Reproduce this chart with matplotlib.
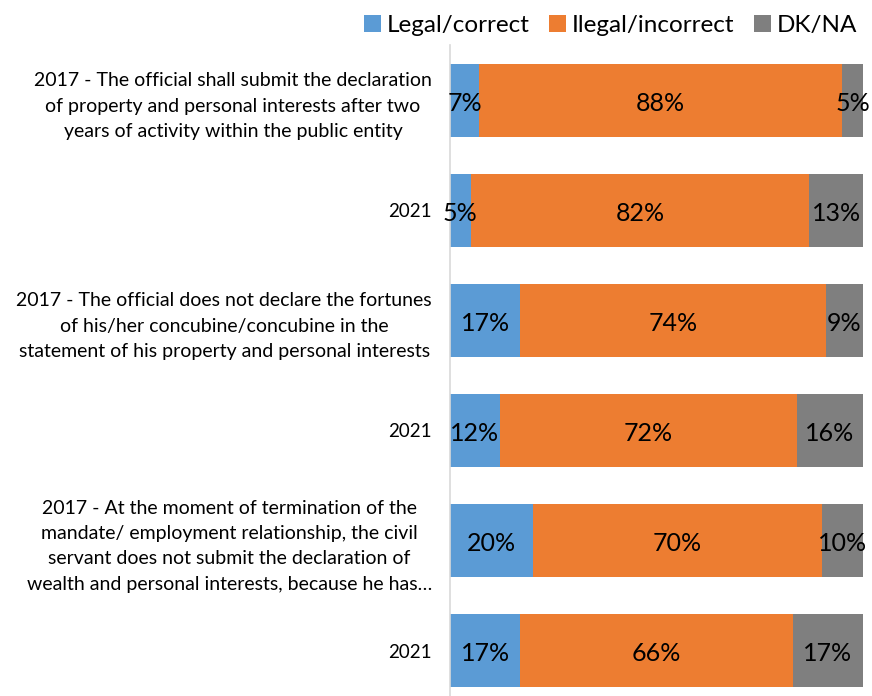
import matplotlib
matplotlib.use("Agg")
import matplotlib.pyplot as plt
import numpy as np

plt.rcParams['font.family'] = ['Lato', 'DejaVu Sans']

categories = [
    "2017 - The official shall submit the declaration\nof property and personal interests after two\nyears of activity within the public entity",
    "2021",
    "2017 - The official does not declare the fortunes\nof his/her concubine/concubine in the\nstatement of his property and personal interests",
    "2021",
    "2017 - At the moment of termination of the\nmandate/ employment relationship, the civil\nservant does not submit the declaration of\nwealth and personal interests, because he has\u2026",
    "2021",
]
series_names = ["Legal/correct", "Ilegal/incorrect", "DK/NA"]
legal = [7, 5, 17, 12, 20, 17]
illegal = [88, 82, 74, 72, 70, 66]
dkna = [5, 13, 9, 16, 10, 17]
colors = ["#5b9bd5", "#ed7d31", "#7f7f7f"]

W, H = 872, 696
fig = plt.figure(figsize=(W / 100, H / 100), dpi=100)
left, right = 450, 863
top, bottom = 45.5, 705.5
ax = fig.add_axes([left / W, 1 - bottom / H, (right - left) / W, (bottom - top) / H])

y = np.arange(len(categories))
cum = np.zeros(len(categories))
for vals, name, col in zip([legal, illegal, dkna], series_names, colors):
    vals = np.array(vals, dtype=float)
    ax.barh(y, vals, left=cum, height=0.66, color=col, label=name)
    for yi, c, v in zip(y, cum, vals):
        ax.text(c + v / 2, yi + 0.03, f"{int(v)}%", ha="center", va="center",
                fontsize=18, color="black")
    cum += vals

ax.set_xlim(0, 100)
ax.set_ylim(len(categories) - 0.5, -0.5)
ax.set_yticks(y)
ax.set_yticklabels(categories)
for lbl, txt in zip(ax.get_yticklabels(), categories):
    lbl.set_multialignment("center")
    lbl.set_linespacing(1.6)
    lbl.set_fontsize(13.5 if txt == "2021" else 14)
ax.tick_params(axis="y", length=0, pad=13)
ax.set_xticks([])
for s in ["top", "right", "bottom"]:
    ax.spines[s].set_visible(False)
ax.spines["left"].set_color("#d9d9d9")
ax.spines["left"].set_linewidth(1.2)

fig.legend(loc="upper right", bbox_to_anchor=(1.0, 1.0), ncol=3, frameon=False,
           fontsize=17.5, handlelength=0.7, handleheight=0.7, handletextpad=0.25,
           columnspacing=0.8, borderaxespad=0.2)

fig.savefig("out.png", dpi=100)
